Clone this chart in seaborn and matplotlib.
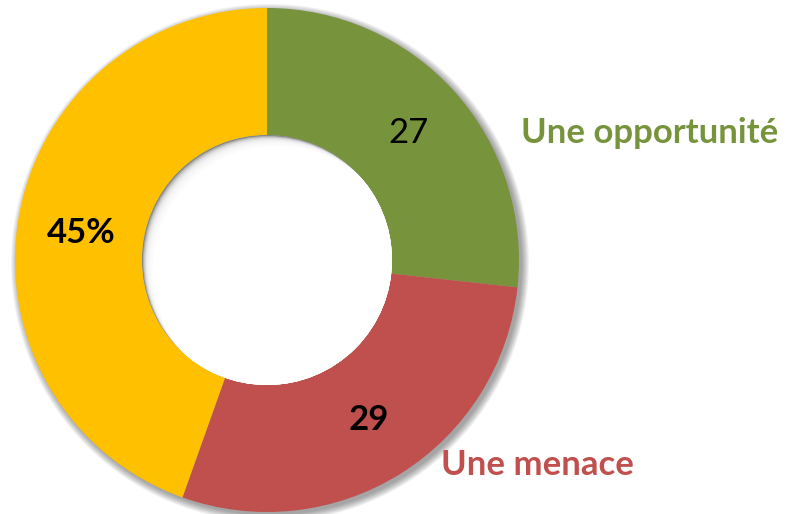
import numpy as np
import matplotlib
matplotlib.use("Agg")
import matplotlib.pyplot as plt
import seaborn as sns
from matplotlib.patches import Circle

# data
categories = ["Une opportunité", "Une menace", "Autre"]
values = [27, 29, 45]
value_labels = ["27", "29", "45%"]
colors = ["#77933C", "#C0504D", "#FFC000"]

sns.set_theme(style="white")
plt.rcParams['font.family'] = ['Lato', 'DejaVu Sans']

fig = plt.figure(figsize=(7.87, 5.14), dpi=100)
ax = fig.add_axes([0, 0, 1, 1])

cx, cy = 267, 254
r_out, r_in = 252, 125

# soft outer shadow, offset to lower right
for i in range(8):
    ax.add_patch(Circle((cx + 3, cy - 3), r_out + 7 - i, color='black', alpha=0.05, lw=0, zorder=0))

wedges, _ = ax.pie(values, colors=colors, startangle=90, counterclock=False,
                   center=(cx, cy), radius=r_out,
                   wedgeprops=dict(width=r_out - r_in, linewidth=0))
for w in wedges:
    w.set_zorder(1)

ax.set_xlim(0, 787)
ax.set_ylim(0, 514)
ax.set_aspect('equal')
ax.axis('off')

# inner shadow in the hole (donut casts shadow to lower right)
hole = Circle((cx, cy), r_in, transform=ax.transData)
g = Circle((cx, cy), r_in, color='#808080', lw=0, zorder=2)
ax.add_patch(g)
g.set_clip_path(hole)
for k in range(1, 13):
    d = k * 0.8
    w = Circle((cx + d, cy - d), r_in, color='white', alpha=0.3, lw=0, zorder=2)
    ax.add_patch(w)
    w.set_clip_path(hole)
w = Circle((cx + 10.5, cy - 10.5), r_in, color='white', lw=0, zorder=2)
ax.add_patch(w)
w.set_clip_path(hole)

# value labels
ax.text(409, 514 - 133, value_labels[0], fontsize=25, color='black', ha='center', va='center', zorder=5)
ax.text(369, 514 - 420, value_labels[1], fontsize=25, color='black', fontweight='bold', ha='center', va='center', zorder=5)
ax.text(81, 514 - 233, value_labels[2], fontsize=25, color='black', fontweight='bold', ha='center', va='center', zorder=5)

# category labels
ax.text(650, 514 - 133, categories[0], fontsize=25, color=colors[0], fontweight='bold', ha='center', va='center', zorder=5)
ax.text(537, 514 - 465, categories[1], fontsize=25, color=colors[1], fontweight='bold', ha='center', va='center', zorder=5)

fig.savefig("out.png", dpi=100)
